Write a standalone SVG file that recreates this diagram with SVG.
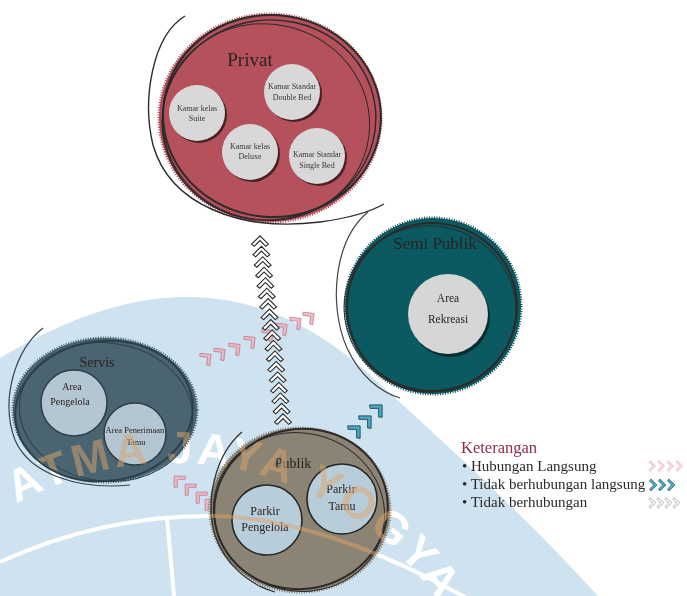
<svg xmlns="http://www.w3.org/2000/svg" width="687" height="596" viewBox="0 0 687 596">
<defs>
<style>
.lbl{font-family:"Liberation Serif","Times New Roman",serif;fill:#2a2222;text-anchor:middle}
.sm{font-size:8px;fill:#3a3535}
.ring{fill:none;stroke:#2c2a2a;stroke-width:1.4}
.leg{font-family:"Liberation Serif","Times New Roman",serif;font-size:15px;fill:#2a2a2a}
.wm{font-family:"Liberation Sans",Arial,sans-serif;font-weight:bold;font-size:45px;letter-spacing:4px}
.cb{fill:#fff;stroke:#222;stroke-width:1}
.cp{fill:#eab3bd;stroke:#c57889;stroke-width:0.9;opacity:0.85}
.ct{fill:#48abc4;stroke:#1e4a57;stroke-width:0.8}
.cg{fill:#fff;stroke:#777;stroke-width:0.9}
</style>
<polygon id="chev" points="-4,-8 4,0 -4,8 -6,5.5 -0.5,0 -6,-5.5"/>
<path id="wmArc" d="M 16.4 503.5 A 323 323 0 0 1 485 702"/>
<clipPath id="clipCirc">
<ellipse cx="105" cy="410" rx="92" ry="72"/>
<ellipse cx="300" cy="510" rx="90" ry="82"/>
</clipPath>
</defs>
<rect width="687" height="596" fill="#fff"/>

<g id="watermark">
<path d="M 0 358 C 60 322 125 296 190 297 C 262 298 320 330 370 375 C 430 430 520 510 598 596 L 0 596 Z" fill="#cee3ef"/>
<path d="M 0 562 C 70 530 140 515 215 516 C 300 518 390 555 470 600" fill="none" stroke="#fff" stroke-width="4"/>
<path d="M 167 517 L 174 596" fill="none" stroke="#fff" stroke-width="4"/>
<text class="wm" fill="#fff"><textPath href="#wmArc">ATMA JAYA YOGYA</textPath></text>
</g>

<g id="connectors">
<g class="cp">
<use href="#chev" transform="translate(208 357) rotate(-38)"/>
<use href="#chev" transform="translate(222 352) rotate(-38)"/>
<use href="#chev" transform="translate(237 347) rotate(-38)"/>
<use href="#chev" transform="translate(252 340) rotate(-38)"/>
<use href="#chev" transform="translate(270 333) rotate(-38)"/>
<use href="#chev" transform="translate(284 327) rotate(-38)"/>
<use href="#chev" transform="translate(298 321) rotate(-38)"/>
<use href="#chev" transform="translate(311 316) rotate(-38)"/>
<use href="#chev" transform="translate(177 479) rotate(-135)"/>
<use href="#chev" transform="translate(188 487) rotate(-135)"/>
<use href="#chev" transform="translate(199 495) rotate(-135)"/>
<use href="#chev" transform="translate(208 502) rotate(-135)"/>
</g>
<g class="cb">
<use href="#chev" transform="translate(260.0 240.0) rotate(-90) scale(1.05)"/>
<use href="#chev" transform="translate(261.4 250.5) rotate(-90) scale(1.05)"/>
<use href="#chev" transform="translate(262.7 260.9) rotate(-90) scale(1.05)"/>
<use href="#chev" transform="translate(264.1 271.4) rotate(-90) scale(1.05)"/>
<use href="#chev" transform="translate(265.4 281.9) rotate(-90) scale(1.05)"/>
<use href="#chev" transform="translate(266.8 292.4) rotate(-90) scale(1.05)"/>
<use href="#chev" transform="translate(268.1 302.8) rotate(-90) scale(1.05)"/>
<use href="#chev" transform="translate(269.5 313.3) rotate(-90) scale(1.05)"/>
<use href="#chev" transform="translate(270.8 323.8) rotate(-90) scale(1.05)"/>
<use href="#chev" transform="translate(272.2 334.2) rotate(-90) scale(1.05)"/>
<use href="#chev" transform="translate(273.5 344.7) rotate(-90) scale(1.05)"/>
<use href="#chev" transform="translate(274.9 355.2) rotate(-90) scale(1.05)"/>
<use href="#chev" transform="translate(276.2 365.6) rotate(-90) scale(1.05)"/>
<use href="#chev" transform="translate(277.6 376.1) rotate(-90) scale(1.05)"/>
<use href="#chev" transform="translate(278.9 386.6) rotate(-90) scale(1.05)"/>
<use href="#chev" transform="translate(280.3 397.1) rotate(-90) scale(1.05)"/>
<use href="#chev" transform="translate(281.6 407.5) rotate(-90) scale(1.05)"/>
<use href="#chev" transform="translate(283.0 418.0) rotate(-90) scale(1.05)"/>
</g>
<g class="ct">
<use href="#chev" transform="translate(357 429) rotate(-45) scale(1.1)"/>
<use href="#chev" transform="translate(368 419) rotate(-45) scale(1.1)"/>
<use href="#chev" transform="translate(379 408) rotate(-45) scale(1.1)"/>
</g>
</g>

<g id="privat">
<ellipse cx="270" cy="118" rx="111" ry="104" fill="#b4515c"/>
<ellipse cx="270" cy="118" rx="111" ry="104" fill="none" stroke="#a3464f" stroke-width="3" stroke-dasharray="1 1.5"/>
<ellipse class="ring" cx="269" cy="120" rx="107" ry="100" transform="rotate(-8 269 120)"/>
<ellipse class="ring" cx="266" cy="122" rx="104" ry="98" transform="rotate(14 266 122)" style="stroke-width:1"/>
<ellipse class="ring" cx="272" cy="116" rx="109" ry="101" transform="rotate(4 272 116)" style="stroke-width:2"/>
<path class="ring" d="M 185 16 C 152 36 142 100 153 145 C 170 205 240 232 320 222 C 350 218 370 212 384 204"/>
<text class="lbl" x="250" y="66" font-size="19">Privat</text>
<circle cx="199" cy="115" r="28" fill="#4a2226"/>
<circle cx="197" cy="113" r="28" fill="#d9d8d8"/>
<text class="lbl sm" x="197" y="111">Kamar kelas</text>
<text class="lbl sm" x="197" y="121">Suite</text>
<circle cx="294" cy="94" r="28" fill="#4a2226"/>
<circle cx="292" cy="92" r="28" fill="#d9d8d8"/>
<text class="lbl sm" x="292" y="89">Kamar Standar</text>
<text class="lbl sm" x="292" y="100">Double Bed</text>
<circle cx="252" cy="154" r="28" fill="#4a2226"/>
<circle cx="250" cy="152" r="28" fill="#d9d8d8"/>
<text class="lbl sm" x="250" y="149">Kamar kelas</text>
<text class="lbl sm" x="250" y="159">Deluxe</text>
<circle cx="319" cy="158" r="28" fill="#4a2226"/>
<circle cx="317" cy="156" r="28" fill="#d9d8d8"/>
<text class="lbl sm" x="317" y="157">Kamar Standar</text>
<text class="lbl sm" x="317" y="168">Single Bed</text>
</g>

<g id="semi-publik">
<circle cx="433" cy="306" r="88" fill="#0c5a61"/>
<circle cx="433" cy="306" r="88" fill="none" stroke="#0a4e55" stroke-width="3" stroke-dasharray="1 1.5"/>
<ellipse class="ring" cx="432" cy="307" rx="85" ry="84" transform="rotate(-10 432 307)" style="stroke-width:2"/>
<ellipse class="ring" cx="430" cy="309" rx="86" ry="83" transform="rotate(12 430 309)" style="stroke-width:1"/>
<path class="ring" d="M 368 212 C 334 240 328 305 347 348 C 360 376 380 392 400 398" style="stroke:#444;stroke-width:1.2"/>
<text class="lbl" x="435" y="249" font-size="17">Semi Publik</text>
<circle cx="450" cy="317" r="40" fill="#062d30"/>
<circle cx="448" cy="314" r="40" fill="#d6d6d6"/>
<text class="lbl" x="448" y="302" font-size="11.5">Area</text>
<text class="lbl" x="448" y="323" font-size="11.5">Rekreasi</text>
</g>

<g id="servis">
<ellipse cx="105" cy="410" rx="92" ry="72" fill="#4a6571"/>
<ellipse cx="105" cy="410" rx="92" ry="72" fill="none" stroke="#41596a" stroke-width="3" stroke-dasharray="1 1.5"/>
<ellipse class="ring" cx="104" cy="411" rx="89" ry="70" transform="rotate(-6 104 411)" style="stroke:#2b3f47;stroke-width:2"/>
<ellipse class="ring" cx="106" cy="412" rx="87" ry="69" transform="rotate(8 106 412)" style="stroke:#2b3f47;stroke-width:1"/>
<path class="ring" d="M 43 328 C 15 350 0 400 15 440 C 30 475 80 490 130 485" style="stroke:#33464e;stroke-width:1.2"/>
<text class="lbl" x="97" y="367" font-size="14">Servis</text>
<circle cx="74" cy="403" r="33" fill="#b3c6d2" stroke="#2c3e46" stroke-width="1.5"/>
<text class="lbl" x="72" y="390" font-size="10">Area</text>
<text class="lbl" x="70" y="405" font-size="10">Pengelola</text>
<circle cx="135" cy="434" r="31" fill="#b3c6d2" stroke="#2c3e46" stroke-width="1.5"/>
<text class="lbl" x="135" y="433" font-size="8.5">Area Penerimaan</text>
<text class="lbl" x="136" y="445" font-size="8.5">Tamu</text>
</g>

<g id="publik">
<ellipse cx="300" cy="510" rx="90" ry="82" fill="#8b8373"/>
<ellipse cx="300" cy="510" rx="90" ry="82" fill="none" stroke="#7d7566" stroke-width="3" stroke-dasharray="1 1.5"/>
<ellipse class="ring" cx="301" cy="509" rx="87" ry="80" transform="rotate(-10 301 509)" style="stroke-width:2"/>
<ellipse class="ring" cx="299" cy="512" rx="86" ry="79" transform="rotate(14 299 512)" style="stroke-width:1"/>
<path class="ring" d="M 242 432 C 215 455 205 500 215 535 C 225 565 250 585 275 592" style="stroke-width:1.2"/>
<text class="lbl" x="293" y="468" font-size="14">Publik</text>
<circle cx="267" cy="520" r="35" fill="#b8cdda" stroke="#262626" stroke-width="1.6"/>
<text class="lbl" x="265" y="515" font-size="12">Parkir</text>
<text class="lbl" x="265" y="531" font-size="12">Pengelola</text>
<circle cx="342" cy="499" r="35" fill="#b8cdda" stroke="#262626" stroke-width="1.6"/>
<text class="lbl" x="341" y="493" font-size="12">Parkir</text>
<text class="lbl" x="342" y="510" font-size="12">Tamu</text>
</g>

<g id="watermark-overlay" clip-path="url(#clipCirc)" opacity="0.5">
<text class="wm" fill="#dba66c"><textPath href="#wmArc">ATMA JAYA YOGYA</textPath></text>
<path d="M 0 562 C 70 530 140 515 215 516 C 300 518 390 555 470 600" fill="none" stroke="#dba66c" stroke-width="4"/>
</g>

<g id="legend">
<text x="461" y="453" font-family="Liberation Serif, Times New Roman, serif" font-size="16.5" fill="#8c2d4b">Keterangan</text>
<text class="leg" x="462" y="471">• Hubungan Langsung</text>
<text class="leg" x="462" y="489">• Tidak berhubungan langsung</text>
<text class="leg" x="462" y="507">• Tidak berhubungan</text>
<g class="cp" style="opacity:0.5">
<use href="#chev" transform="translate(653 466) scale(0.7)"/>
<use href="#chev" transform="translate(662 466) scale(0.7)"/>
<use href="#chev" transform="translate(671 466) scale(0.7)"/>
<use href="#chev" transform="translate(680 466) scale(0.7)"/>
</g>
<g class="ct">
<use href="#chev" transform="translate(654 485) scale(0.75)"/>
<use href="#chev" transform="translate(663 485) scale(0.75)"/>
<use href="#chev" transform="translate(672 485) scale(0.75)"/>
</g>
<g class="cg">
<use href="#chev" transform="translate(653 503) scale(0.65)"/>
<use href="#chev" transform="translate(661 503) scale(0.65)"/>
<use href="#chev" transform="translate(669 503) scale(0.65)"/>
<use href="#chev" transform="translate(677 503) scale(0.65)"/>
</g>
</g>
</svg>
